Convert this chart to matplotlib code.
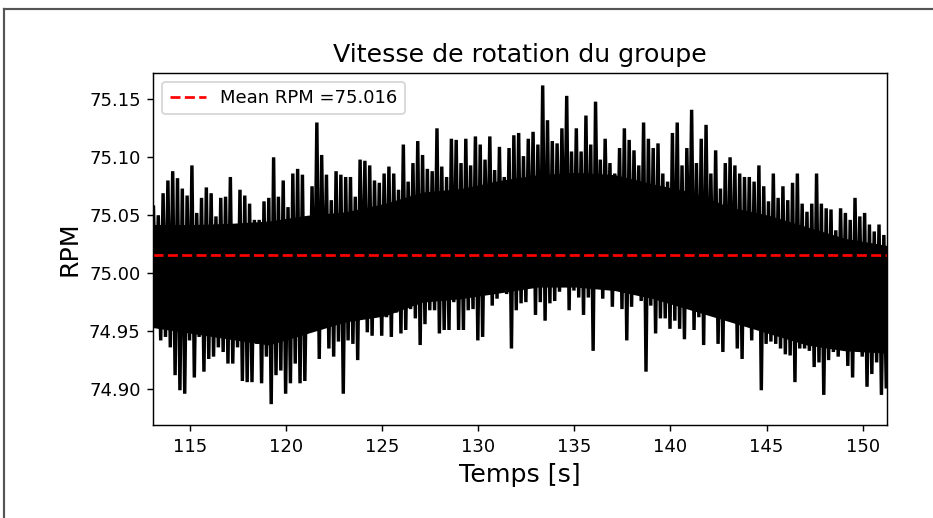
import numpy as np
import matplotlib
matplotlib.use("Agg")
import matplotlib.pyplot as plt
from matplotlib.lines import Line2D

# sample times of the envelope readings (every 0.25 s)
t = 113.1 + 0.25 * np.arange(153)

# upper peaks of the signal
rpm_high = [
    75.057, 75.050, 75.069, 75.080, 75.088, 75.082, 75.073, 75.067, 75.093, 75.052,
    75.065, 75.074, 75.069, 75.049, 75.065, 75.066, 75.083, 75.040, 75.072, 75.067,
    75.060, 75.046, 75.046, 75.062, 75.065, 75.100, 75.066, 75.080, 75.057, 75.086,
    75.090, 75.085, 75.040, 75.075, 75.130, 75.102, 75.085, 75.063, 75.088, 75.085,
    75.083, 75.083, 75.066, 75.098, 75.097, 75.093, 75.080, 75.078, 75.086, 75.092,
    75.086, 75.072, 75.111, 75.079, 75.095, 75.114, 75.102, 75.090, 75.088, 75.125,
    75.092, 75.083, 75.116, 75.115, 75.095, 75.116, 75.093, 75.118, 75.111, 75.098,
    75.118, 75.089, 75.109, 75.083, 75.108, 75.119, 75.121, 75.101, 75.116, 75.122,
    75.111, 75.162, 75.132, 75.114, 75.112, 75.125, 75.153, 75.105, 75.125, 75.105,
    75.136, 75.111, 75.148, 75.098, 75.116, 75.095, 75.086, 75.108, 75.125, 75.115,
    75.106, 75.093, 75.130, 75.116, 75.108, 75.112, 75.086, 75.079, 75.121, 75.130,
    75.093, 75.108, 75.141, 75.095, 75.116, 75.128, 75.086, 75.106, 75.073, 75.095,
    75.100, 75.093, 75.086, 75.083, 75.083, 75.079, 75.093, 75.075, 75.062, 75.086,
    75.065, 75.075, 75.063, 75.078, 75.086, 75.060, 75.053, 75.060, 75.086, 75.060,
    75.056, 75.055, 75.037, 75.056, 75.052, 75.046, 75.065, 75.049, 75.052, 75.042,
    75.036, 75.042, 75.033,
]

# lower peaks of the signal
rpm_low = [
    74.962, 74.942, 74.945, 74.936, 74.912, 74.899, 74.896, 74.942, 74.910, 74.945,
    74.915, 74.926, 74.928, 74.936, 74.932, 74.922, 74.922, 74.936, 74.907, 74.906,
    74.906, 74.939, 74.905, 74.928, 74.887, 74.912, 74.916, 74.896, 74.905, 74.922,
    74.905, 74.907, 74.953, 74.952, 74.926, 74.962, 74.935, 74.928, 74.941, 74.896,
    74.942, 74.939, 74.925, 74.972, 74.949, 74.946, 74.965, 74.946, 74.962, 74.945,
    74.966, 74.948, 74.951, 74.969, 74.961, 74.938, 74.956, 74.968, 74.968, 74.948,
    74.951, 74.951, 74.975, 74.951, 74.951, 74.968, 74.969, 74.942, 74.945, 74.995,
    74.972, 74.978, 74.985, 74.982, 74.935, 74.968, 74.974, 74.975, 74.992, 74.964,
    74.975, 74.959, 74.974, 74.976, 74.984, 74.998, 74.968, 74.985, 74.979, 74.964,
    74.979, 74.933, 74.994, 74.978, 75.009, 74.971, 74.995, 74.969, 74.942, 74.971,
    75.000, 74.976, 74.915, 74.972, 74.948, 74.961, 74.961, 74.952, 74.959, 74.952,
    74.943, 74.984, 74.951, 74.962, 74.938, 74.965, 74.968, 74.939, 74.932, 74.959,
    74.969, 74.935, 74.926, 74.956, 74.942, 74.952, 74.899, 74.939, 74.941, 74.939,
    74.935, 74.930, 74.929, 74.906, 74.935, 74.935, 74.933, 74.919, 74.923, 74.895,
    74.925, 74.932, 74.928, 74.943, 74.920, 74.910, 74.942, 74.928, 74.902, 74.913,
    74.923, 74.895, 74.902,
]

# dense core of the signal (solid black band), every 2 s
t_core = [113.1, 115.1, 117.1, 119.1, 121.1, 123.1, 125.1, 127.1, 129.1, 131.1,
          133.1, 135.1, 137.1, 139.1, 141.1, 143.1, 145.1, 147.1, 149.1, 151.25]
core_high = [75.042, 75.042, 75.043, 75.045, 75.050, 75.053, 75.060, 75.070, 75.073, 75.080,
             75.085, 75.087, 75.085, 75.077, 75.070, 75.057, 75.050, 75.040, 75.030, 75.024]
core_low = [74.953, 74.948, 74.943, 74.938, 74.948, 74.958, 74.963, 74.975, 74.978, 74.983,
            74.988, 74.988, 74.985, 74.978, 74.968, 74.958, 74.948, 74.938, 74.933, 74.931]

mean_rpm = 75.016

# signal goes high then low inside each 0.25 s step
x_sig = np.column_stack([t, t + 0.125]).ravel()
y_sig = np.column_stack([rpm_high, rpm_low]).ravel()

fig = plt.figure(figsize=(933 / 130, 518 / 130), dpi=130)
ax = fig.add_axes([0.1643, 0.1795, 0.9504 - 0.1643, 0.8597 - 0.1795])

ax.fill_between(t_core, core_low, core_high, color='black', linewidth=0)
ax.plot(x_sig, y_sig, color='black', linewidth=1.9, solid_joinstyle='bevel')
ax.axhline(mean_rpm, color='red', linestyle='--', linewidth=1.5,
           label=f'Mean RPM ={mean_rpm:.3f}')

ax.set_xlim(113.09, 151.25)
ax.set_ylim(74.869, 75.173)
ax.set_title('Vitesse de rotation du groupe', fontsize=14)
ax.set_xlabel('Temps [s]', fontsize=14)
ax.set_ylabel('RPM', fontsize=14)
ax.legend(loc='upper left')

# frame of the screenshot
fig.add_artist(Line2D([4 / 933, 1], [1 - 9 / 518, 1 - 9 / 518], transform=fig.transFigure,
                      color='#555555', linewidth=1.2))
fig.add_artist(Line2D([4 / 933, 4 / 933], [0, 1 - 9 / 518], transform=fig.transFigure,
                      color='#555555', linewidth=1.2))

fig.savefig('out.png', dpi=130)
plt.close(fig)
